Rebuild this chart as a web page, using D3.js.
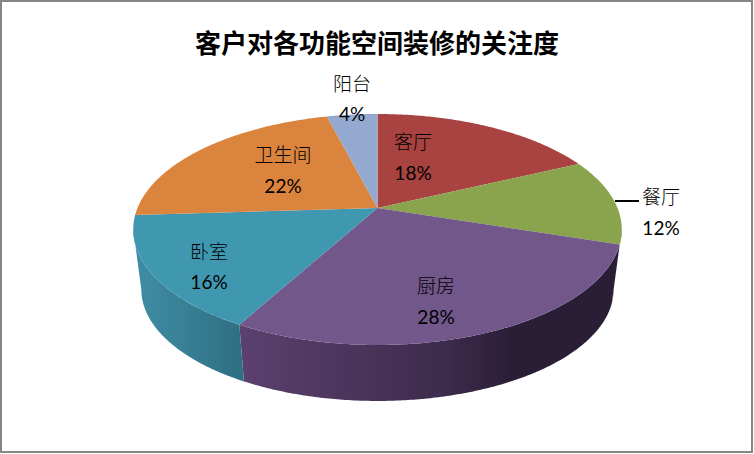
<!DOCTYPE html>
<html>
<head>
<meta charset="utf-8">
<script src="https://cdnjs.cloudflare.com/ajax/libs/d3/7.8.5/d3.min.js"></script>
<style>
  html, body { margin: 0; padding: 0; background: #fff; }
  svg { display: block; }
  text { text-anchor: middle; dominant-baseline: central; fill: #000; }
  .title { font: bold 26px "Noto Sans CJK SC", sans-serif; }
  .name { font: 300 19px "Noto Sans CJK SC", sans-serif; }
  .pct { font: 19px Lato, sans-serif; }
</style>
</head>
<body>
<svg width="754" height="454"></svg>
<script>
var titleText = "客户对各功能空间装修的关注度";
var categories = ["客厅", "餐厅", "厨房", "卧室", "卫生间", "阳台"];
var values = [18, 12, 28, 16, 22, 4];

var topColors = ["#a94341", "#8aa44d", "#72578b", "#4097b0", "#db843d", "#93a9cf"];
var wallStops = [
  [[0, "#7a2f2e"], [1, "#7a2f2e"]],
  [[0, "#6f8540"], [1, "#5d7035"]],
  [[0, "#5c406e"], [0.55, "#3c2b4c"], [0.72, "#2a1e36"], [1, "#2a1e36"]],
  [[0, "#3f8ea6"], [1, "#2f7082"]],
  [[0, "#a8652d"], [1, "#a8652d"]],
  [[0, "#6f80a0"], [1, "#6f80a0"]]
];
// label centres, name line then value line
var labelPos = [[413, 140, 172], [661, 195, 227], [436, 284, 316], [209, 250, 281], [283, 153, 185], [352, 82, 113]];

var width = 754, height = 454;
var cx = 377.5, cy = 208, persp = 0.186;

var svg = d3.select("svg");

svg.append("rect")
  .attr("x", 1).attr("y", 1)
  .attr("width", width - 3).attr("height", height - 3)
  .attr("fill", "#fff")
  .attr("stroke", "#868686")
  .attr("stroke-width", 2);

svg.append("text").attr("class", "title")
  .attr("x", 377).attr("y", 41)
  .text(titleText);

var pie = d3.pie().sort(null)(values);

// unit circle to screen, the disc is tilted so the near edge looks bigger
function projector(scale, pivotY) {
  var x = d3.scaleLinear().domain([-1, 1]).range([cx - 240 * scale, cx + 240 * scale]);
  var y = d3.scaleLinear().domain([-1, 1]).range([pivotY + 111.5 * scale, pivotY - 111.5 * scale]);
  return function (a) {
    var d = 1 + persp * Math.cos(a);
    return [x(Math.sin(a) / d), y(Math.cos(a) / d)];
  };
}
var topRim = projector(1, cy);
var bottomRim = projector(0.967, 268.5);
var line = d3.line();

function sweep(start, end) {
  var n = Math.ceil((end - start) / 0.01);
  return d3.range(n + 1).map(function (i) {
    return start + (end - start) * i / n;
  });
}
function angles(d) { return sweep(d.startAngle, d.endAngle); }

// the side is only seen between the two points where the rim turns back
var wallFrom = Math.acos(-persp), wallTo = 2 * Math.PI - wallFrom;
function wallAngles(d) {
  var s = Math.max(d.startAngle, wallFrom), e = Math.min(d.endAngle, wallTo);
  return e > s ? sweep(s, e) : [];
}

var defs = svg.append("defs");
var grad = defs.selectAll("linearGradient")
  .data(pie)
  .enter().append("linearGradient")
  .attr("id", function (d, i) { return "wall-" + i; })
  .attr("gradientUnits", "userSpaceOnUse")
  .attr("x1", function (d) { return d3.min(angles(d), function (a) { return topRim(a)[0]; }); })
  .attr("x2", function (d) { return d3.max(angles(d), function (a) { return topRim(a)[0]; }); })
  .attr("y1", 0).attr("y2", 0);

grad.selectAll("stop")
  .data(function (d, i) { return wallStops[i]; })
  .enter().append("stop")
  .attr("offset", function (s) { return s[0]; })
  .attr("stop-color", function (s) { return s[1]; });

// walls first, the top faces cover the seam
svg.append("g").selectAll("path")
  .data(pie.filter(function (d) { return wallAngles(d).length; }))
  .enter().append("path")
  .attr("d", function (d) {
    var a = wallAngles(d);
    return line(a.map(topRim).concat(a.slice().reverse().map(bottomRim))) + "Z";
  })
  .attr("fill", function (d) { return "url(#wall-" + d.index + ")"; });

svg.append("g").selectAll("path")
  .data(pie)
  .enter().append("path")
  .attr("d", function (d) {
    return line([[cx, cy]].concat(angles(d).map(topRim))) + "Z";
  })
  .attr("fill", function (d, i) { return topColors[i]; });

// leader line for 餐厅
svg.append("line")
  .attr("x1", 615).attr("x2", 639)
  .attr("y1", 201).attr("y2", 201)
  .attr("stroke", "#000").attr("stroke-width", 2);

var labels = svg.append("g").selectAll("g")
  .data(categories)
  .enter().append("g");

labels.append("text").attr("class", "name")
  .attr("x", function (d, i) { return labelPos[i][0]; })
  .attr("y", function (d, i) { return labelPos[i][1]; })
  .text(function (d) { return d; });

labels.append("text").attr("class", "pct")
  .attr("x", function (d, i) { return labelPos[i][0]; })
  .attr("y", function (d, i) { return labelPos[i][2]; })
  .text(function (d, i) { return values[i] + "%"; });
</script>
</body>
</html>
